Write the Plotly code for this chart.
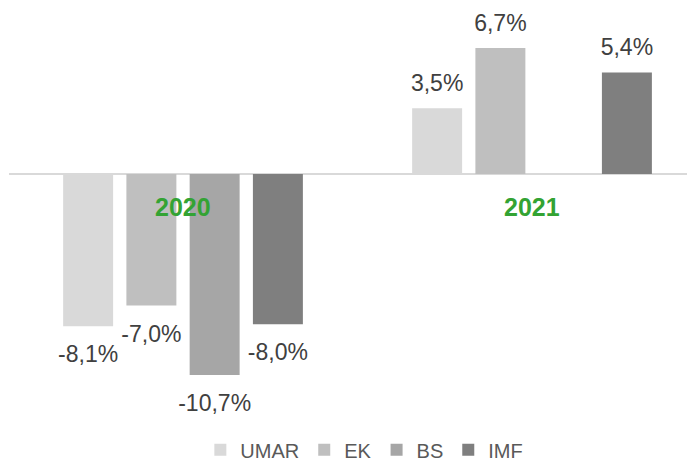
import plotly.graph_objects as go

years = ["2020", "2021"]
series = ["UMAR", "EK", "BS", "IMF"]
umar = [-8.1, 3.5]
ek = [-7.0, 6.7]
bs = [-10.7, None]
imf = [-8.0, 5.4]
colors = ["#d9d9d9", "#bfbfbf", "#a6a6a6", "#7f7f7f"]


def fmt(v):
    if v is None:
        return ""
    s = f"{v:.1f}%".replace(".", ",")
    # invisible tall spacer on both sides pushes the label a bit further off the bar end
    pad = f"<span style='font-size:{66 if v > 0 else 37}px'>&nbsp;</span>"
    return pad + s + pad


fig = go.Figure()
for name, vals, col in zip(series, [umar, ek, bs, imf], colors):
    fig.add_trace(go.Bar(
        x=years, y=vals, name=name,
        marker=dict(color=col, line=dict(width=0)),
        text=[fmt(v) for v in vals],
        textposition="outside",
        constraintext="none",
        textfont=dict(size=23, color="#404040"),
        cliponaxis=False,
    ))

# category labels sit just under the zero line
for i, yr in enumerate(years):
    fig.add_annotation(
        x=i, y=0, xref="x", yref="y", yanchor="top", yshift=-17,
        text=f"<b>{yr}</b>", showarrow=False,
        font=dict(size=25, color="#33a333"),
    )

# page body has an 8px margin, so the figure is a bit smaller than the window
fig.update_layout(
    width=687, height=455,
    margin=dict(l=1, r=0, t=0, b=43, autoexpand=False),
    paper_bgcolor="white", plot_bgcolor="white",
    font=dict(family="Liberation Sans, Arial, sans-serif", color="#595959"),
    barmode="group", bargap=0.275, bargroupgap=0.21,
    showlegend=True,
    legend=dict(orientation="h", x=0.518, xanchor="center", y=-0.025, yanchor="top",
                font=dict(size=20, color="#595959"), itemwidth=30,
                traceorder="normal"),
    xaxis=dict(type="category", range=[-0.4986, 1.467], showticklabels=False,
               showgrid=False, zeroline=False, showline=False),
    yaxis=dict(range=[-13.09, 8.83], showticklabels=False, showgrid=False,
               zeroline=True, zerolinecolor="#d9d9d9", zerolinewidth=2,
               showline=False),
)

fig.write_html("out.html")
